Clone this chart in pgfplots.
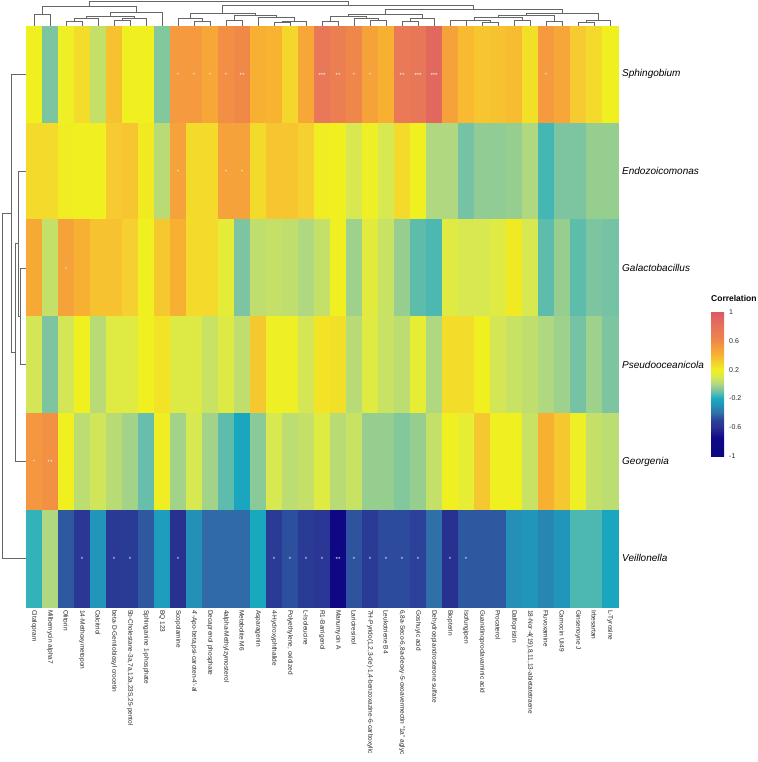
\documentclass[border=0pt]{standalone}
\usepackage{pgfplots}
\pgfplotsset{compat=1.18}
\usepackage{pgfplotstable}
\usepackage{fontspec}
\setmainfont{Liberation Sans}

\pgfplotsset{
  colormap={corr}{rgb255(0cm)=(10,8,128); rgb255(2.5cm)=(16,8,136); rgb255(4cm)=(40,48,144); rgb255(5cm)=(44,66,154); rgb255(6cm)=(48,112,168); rgb255(7cm)=(36,144,184); rgb255(8cm)=(24,172,192); rgb255(9cm)=(112,192,168); rgb255(10cm)=(176,216,128); rgb255(11cm)=(216,232,80); rgb255(12cm)=(240,240,32); rgb255(13cm)=(245,208,48); rgb255(14cm)=(248,180,48); rgb255(15cm)=(246,158,60); rgb255(16cm)=(240,136,72); rgb255(17.5cm)=(232,120,88); rgb255(20cm)=(220,90,100)},
  cell/.style={scatter, only marks, mark=square*, mark size=8pt, mark options={yscale=6.05},
    scatter/use mapped color={draw=mapped color, fill=mapped color}},
}

% correlation values: one line per compound (column), one column per genus (row)
\pgfplotstableread{
idx Sph Endo Gal Pse Geo Vei
1 0.20 0.27 0.45 0.09 0.53 -0.17
2 -0.08 0.27 0.05 -0.08 0.56 0.00
3 0.19 0.21 0.48 0.09 0.20 -0.45
4 0.26 0.20 0.42 0.20 0.03 -0.56
5 0.05 0.20 0.35 0.02 0.08 -0.28
6 0.35 0.32 0.35 0.13 0.02 -0.55
7 0.20 0.34 0.30 0.13 -0.02 -0.54
8 0.20 0.22 0.20 0.20 -0.11 -0.45
9 -0.07 0.02 0.33 0.24 0.21 -0.25
10 0.52 0.48 0.42 0.12 -0.02 -0.60
11 0.52 0.27 0.27 0.12 0.10 -0.30
12 0.46 0.27 0.27 0.06 -0.02 -0.41
13 0.57 0.48 0.15 0.12 -0.12 -0.41
14 0.60 0.48 -0.08 0.04 -0.22 -0.41
15 0.42 0.27 0.04 0.33 -0.06 -0.21
16 0.40 0.34 0.05 0.19 0.10 -0.54
17 0.28 0.34 0.04 0.19 0.03 -0.47
18 0.46 0.30 0.00 0.09 0.05 -0.54
19 0.75 0.21 0.05 0.24 0.13 -0.56
20 0.68 0.20 0.20 0.25 0.02 -0.85
21 0.62 0.10 -0.03 0.02 0.06 -0.46
22 0.48 0.19 0.14 0.13 -0.04 -0.54
23 0.42 0.10 0.06 0.06 -0.04 -0.48
24 0.74 0.27 -0.04 0.03 -0.07 -0.48
25 0.76 0.20 -0.12 0.16 -0.04 -0.50
26 0.88 0.00 -0.14 0.00 0.05 -0.40
27 0.48 0.00 0.13 0.26 0.20 -0.60
28 0.38 -0.09 0.10 0.26 0.16 -0.45
29 0.34 -0.05 0.10 0.20 0.33 -0.45
30 0.35 -0.05 0.13 0.09 0.20 -0.45
31 0.37 -0.04 0.22 0.06 0.20 -0.30
32 0.25 0.00 0.10 0.04 0.06 -0.28
33 0.52 -0.15 -0.12 0.00 0.42 -0.33
34 0.46 -0.08 -0.04 -0.03 0.33 -0.28
35 0.32 -0.08 -0.12 -0.09 0.19 -0.14
36 0.27 -0.04 -0.08 -0.03 0.05 -0.14
37 0.20 -0.04 -0.09 -0.08 0.03 -0.22
}\corr

\pgfplotstableread{
x y s
10 1 *
11 1 *
12 1 *
13 1 *
14 1 **
19 1 ***
20 1 **
21 1 *
22 1 *
24 1 **
25 1 ***
26 1 ***
33 1 *
10 2 *
13 2 *
14 2 *
3 3 *
1 5 *
2 5 **
4 6 *
6 6 *
7 6 *
10 6 *
16 6 *
17 6 *
18 6 *
19 6 *
20 6 **
21 6 *
22 6 *
23 6 *
24 6 *
25 6 *
27 6 *
28 6 *
}\stars

\begin{document}
\begin{tikzpicture}
\path[use as bounding box] (0,0) rectangle (757pt,762pt);

\begin{axis}[
  at={(26pt,155.3pt)}, anchor=south west, scale only axis,
  width=592pt, height=580.7pt,
  xmin=0.5, xmax=37.5, ymin=0.5, ymax=6.5, y dir=reverse,
  axis line style={draw=none}, major tick length=0pt,
  xtick={1,...,37},
  xticklabels={Citalopram, Milbemycin alpha7, Olitorin, 14-Methoxymetopon, Calcitriol, beta-D-Gentiobiosyl crocetin, {5b-Cholestane-3a,7a,12a,23S,25-pentol}, Sphinganine 1-phosphate, BQ 123, Scopolamine, {4'-Apo-beta,psi-caroten-4'-al}, Decaprenol phosphate, 4alpha-Methylzymosterol, Metabolite M6, Asparagenin, 4-Hydroxyphthalide, {Polyethylene, oxidized}, L-Isoleucine, R1-Barrigenol, Manumycin A, Lariciresinol, {7H-Pyrido(1,2,3-de)-1,4-benzoxazine-6-carboxylic}, Leukotriene B4, {6,8a-Seco-6,8a-deoxy-5-oxoavermectin "1a" aglyc}, Goshuyic acid, Dehydroepiandrosterone sulfate, Biopterin, Isofungipen, Guanidinoproclavaminic acid, Procaterol, Dalfopristin, {18-Nor-4(19),8,11,13-abietatetraene}, Fluvoxamine, Carnocin UI49, Ginsenoyne J, Irbesartan, L-Tyrosine},
  xticklabel style={yshift=-3.3pt, rotate=-90, anchor=west, inner sep=0pt, font=\fontsize{6.5}{7}\selectfont, text=black!85},
  ytick={1,...,6},
  yticklabels={Sphingobium, Endozoicomonas, Galactobacillus, Pseudooceanicola, Georgenia, Veillonella},
  yticklabel pos=right,
  yticklabel style={anchor=west, xshift=4pt, inner sep=0pt, font=\fontsize{10}{12}\selectfont\itshape},
  colormap name=corr, point meta min=-1, point meta max=1,
  colorbar, colorbar shift/.style={},
  colorbar style={
    at={(parent axis.north east)}, anchor=north west, xshift=93pt, yshift=-286pt,
    scale only axis, width=13pt, height=144pt,
    ytick={-1,-0.6,-0.2,0.2,0.6,1},
    yticklabels={-1,-0.6,-0.2,0.2,0.6,1},
    yticklabel style={font=\fontsize{7}{8}\selectfont, inner sep=0pt, xshift=5pt, anchor=west, text=black!85},
    major tick length=0pt,
    axis line style={draw=none},
    title={\bfseries Correlation},
    title style={at={(0,1)}, anchor=south west, inner sep=0pt, yshift=4pt, font=\fontsize{8.5}{10}\selectfont},
  },
]
\addplot[cell, point meta=\thisrow{Sph}] table[x=idx, y expr=1]{\corr};
\addplot[cell, point meta=\thisrow{Endo}] table[x=idx, y expr=2]{\corr};
\addplot[cell, point meta=\thisrow{Gal}] table[x=idx, y expr=3]{\corr};
\addplot[cell, point meta=\thisrow{Pse}] table[x=idx, y expr=4]{\corr};
\addplot[cell, point meta=\thisrow{Geo}] table[x=idx, y expr=5]{\corr};
\addplot[cell, point meta=\thisrow{Vei}] table[x=idx, y expr=6]{\corr};
\addplot[only marks, mark=*, mark size=0.01pt, mark options={draw=none, fill=none},
  point meta=explicit symbolic, nodes near coords,
  every node near coord/.append style={anchor=center, font=\fontsize{6}{6}\selectfont, text=white, inner sep=0pt, yshift=-1.2pt}]
  table[x=x, y=y, meta=s]{\stars};
\end{axis}

% left dendrogram (rows)
\begin{axis}[
  at={(2pt,155.3pt)}, anchor=south west, scale only axis,
  width=24pt, height=580.7pt,
  xmin=0, xmax=1, x dir=reverse, ymin=0.5, ymax=6.5, y dir=reverse,
  hide axis, clip=false]
\addplot[line width=0.8pt, color=black!60, unbounded coords=jump] coordinates {
(0,3)(0.219,3)(0.219,4)(0,4) (nan,nan)
(0,2)(0.315,2)(0.315,3.5)(0.219,3.5) (nan,nan)
(0.315,2.75)(0.425,2.75)(0.425,5)(0,5) (nan,nan)
(0,1)(0.589,1)(0.589,3.875)(0.425,3.875) (nan,nan)
(0.589,2.4375)(1,2.4375)(1,6)(0,6)
};
\end{axis}

% top dendrogram (columns)
\begin{axis}[
  at={(26pt,736pt)}, anchor=south west, scale only axis,
  width=592pt, height=24.3pt,
  xmin=0.5, xmax=37.5, ymin=0, ymax=1,
  hide axis, clip=false]
\addplot[line width=0.8pt, color=black!60, unbounded coords=jump] coordinates {
(1,0)(1,0.479)(2,0.479)(2,0) (nan,nan)
(3,0)(3,0.178)(4,0.178)(4,0) (nan,nan)
(3.5,0.178)(3.5,0.315)(5,0.315)(5,0) (nan,nan)
(6,0)(6,0.219)(7,0.219)(7,0) (nan,nan)
(6.5,0.219)(6.5,0.315)(8,0.315)(8,0) (nan,nan)
(4.25,0.315)(4.25,0.411)(7.25,0.411)(7.25,0.315) (nan,nan)
(5.75,0.411)(5.75,0.548)(9,0.548)(9,0) (nan,nan)
(1.5,0.479)(1.5,0.795)(7.375,0.795)(7.375,0.548) (nan,nan)
(11,0)(11,0.178)(12,0.178)(12,0) (nan,nan)
(10,0)(10,0.315)(11.5,0.315)(11.5,0.178) (nan,nan)
(13,0)(13,0.247)(14,0.247)(14,0) (nan,nan)
(16,0)(16,0.137)(17,0.137)(17,0) (nan,nan)
(16.5,0.137)(16.5,0.178)(18,0.178)(18,0) (nan,nan)
(15,0)(15,0.356)(17.25,0.356)(17.25,0.178) (nan,nan)
(13.5,0.247)(13.5,0.425)(16.125,0.425)(16.125,0.356) (nan,nan)
(10.75,0.315)(10.75,0.521)(14.8125,0.521)(14.8125,0.425) (nan,nan)
(19,0)(19,0.178)(20,0.178)(20,0) (nan,nan)
(22,0)(22,0.219)(23,0.219)(23,0) (nan,nan)
(21,0)(21,0.315)(22.5,0.315)(22.5,0.219) (nan,nan)
(19.5,0.178)(19.5,0.384)(21.75,0.384)(21.75,0.315) (nan,nan)
(24,0)(24,0.178)(25,0.178)(25,0) (nan,nan)
(24.5,0.178)(24.5,0.315)(26,0.315)(26,0) (nan,nan)
(20.625,0.384)(20.625,0.493)(25.25,0.493)(25.25,0.315) (nan,nan)
(27,0)(27,0.219)(28,0.219)(28,0) (nan,nan)
(29,0)(29,0.137)(30,0.137)(30,0) (nan,nan)
(27.5,0.219)(27.5,0.247)(29.5,0.247)(29.5,0.137) (nan,nan)
(31,0)(31,0.219)(32,0.219)(32,0) (nan,nan)
(28.5,0.247)(28.5,0.356)(31.5,0.356)(31.5,0.219) (nan,nan)
(33,0)(33,0.178)(34,0.178)(34,0) (nan,nan)
(30,0.356)(30,0.452)(33.5,0.452)(33.5,0.178) (nan,nan)
(35,0)(35,0.137)(36,0.137)(36,0) (nan,nan)
(35.5,0.137)(35.5,0.247)(37,0.247)(37,0) (nan,nan)
(31.75,0.452)(31.75,0.521)(36.25,0.521)(36.25,0.247) (nan,nan)
(22.9375,0.493)(22.9375,0.699)(34,0.699)(34,0.521) (nan,nan)
(12.78125,0.521)(12.78125,0.836)(28.46875,0.836)(28.46875,0.699) (nan,nan)
(4.4375,0.795)(4.4375,1)(20.625,1)(20.625,0.836)
};
\end{axis}
\end{tikzpicture}
\end{document}
